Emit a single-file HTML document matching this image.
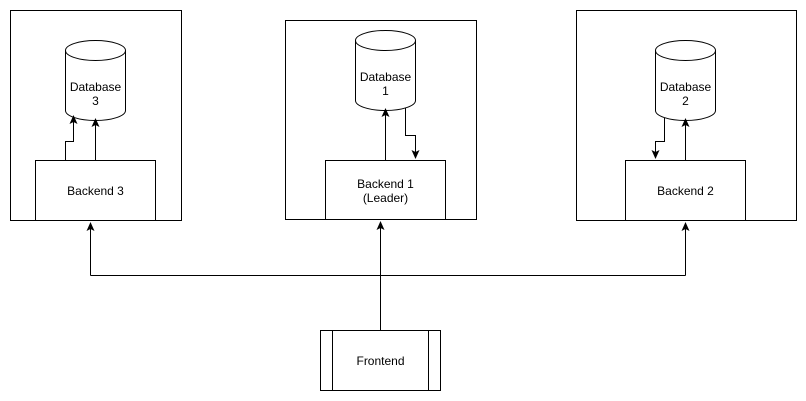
<!DOCTYPE html>
<html><head><meta charset="utf-8"><style>body{margin:0;background:#fff}svg{display:block}text{font-family:"Liberation Sans",Arial,sans-serif;font-size:12px;fill:#000}</style></head><body>
<svg width="806" height="401" viewBox="0 0 806 401" xmlns="http://www.w3.org/2000/svg">
<g fill="none" stroke="#000" stroke-width="1">
<rect x="10.5" y="10.5" width="171" height="210"/>
<rect x="285.5" y="20.5" width="191" height="199"/>
<rect x="576.5" y="10.5" width="220" height="210"/>
<path d="M65.5,50.5 v60 a30,10 0 0 0 60,0 v-60 a30,10 0 0 0 -60,0 a30,10 0 0 0 60,0" fill="#fff"/>
<path d="M355.5,40.5 v60 a30,10 0 0 0 60,0 v-60 a30,10 0 0 0 -60,0 a30,10 0 0 0 60,0" fill="#fff"/>
<path d="M655.5,50.5 v60 a30,10 0 0 0 60,0 v-60 a30,10 0 0 0 -60,0 a30,10 0 0 0 60,0" fill="#fff"/>
<rect x="35.5" y="160.5" width="120" height="60" fill="#fff"/>
<rect x="325.5" y="160.5" width="120" height="59" fill="#fff"/>
<rect x="625.5" y="160.5" width="120" height="60" fill="#fff"/>
<rect x="320.5" y="330.5" width="120" height="60" fill="#fff"/>
<path d="M332.5,330.5 v60 M428.5,330.5 v60"/>
<path d="M95.5,160 V124"/>
<path d="M65.5,160 V141.5 H73.5 V121"/>
<path d="M385.5,160 V114"/>
<path d="M405.5,108 V135.5 H415.5 V154"/>
<path d="M685.5,160 V124"/>
<path d="M664.5,118 V141.5 H655.5 V154"/>
<path d="M380.5,330 V226"/>
<path d="M90.5,275.5 H685.5"/>
<path d="M90.5,275.5 V226"/>
<path d="M685.5,275.5 V226"/>
</g>
<g fill="#000">
<path d="M91.5,127 L95.5,118 L99.5,127 L95.5,125 Z"/>
<path d="M69.5,124 L73.5,115 L77.5,124 L73.5,122 Z"/>
<path d="M381.5,117 L385.5,108 L389.5,117 L385.5,115 Z"/>
<path d="M681.5,127 L685.5,118 L689.5,127 L685.5,125 Z"/>
<path d="M376.5,230 L380.5,221 L384.5,230 L380.5,228 Z"/>
<path d="M86.5,231 L90.5,222 L94.5,231 L90.5,229 Z"/>
<path d="M681.5,231 L685.5,222 L689.5,231 L685.5,229 Z"/>
<path d="M411.5,150 L415.5,159 L419.5,150 L415.5,152 Z"/>
<path d="M651.5,150 L655.5,159 L659.5,150 L655.5,152 Z"/>
</g>
<g text-anchor="middle">
<text x="95.5" y="91">Database</text><text x="95.5" y="105">3</text>
<text x="385.5" y="81">Database</text><text x="385.5" y="95">1</text>
<text x="685.5" y="91">Database</text><text x="685.5" y="105">2</text>
<text x="95.5" y="195">Backend 3</text>
<text x="385.5" y="188">Backend 1</text><text x="385.5" y="202">(Leader)</text>
<text x="685.5" y="195">Backend 2</text>
<text x="380.5" y="365">Frontend</text>
</g>
</svg>
</body></html>
